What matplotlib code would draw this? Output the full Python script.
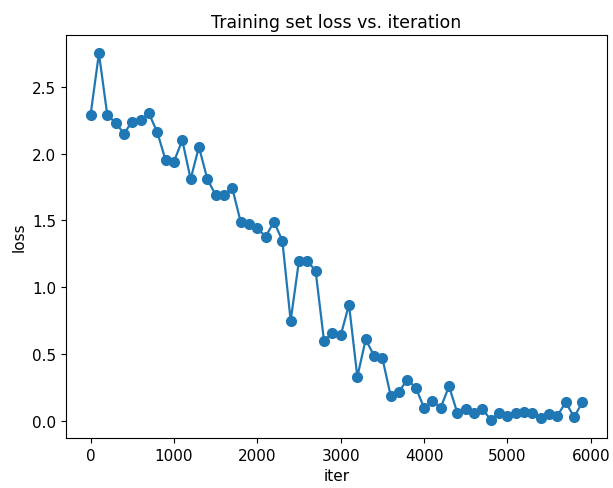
import numpy as np
import matplotlib
matplotlib.use('Agg')
import matplotlib.pyplot as plt

iters = np.arange(0, 6000, 100)
loss = [2.29, 2.75, 2.29, 2.23, 2.15, 2.24, 2.25, 2.30, 2.16, 1.95,
        1.94, 2.10, 1.81, 2.05, 1.81, 1.69, 1.69, 1.74, 1.49, 1.47,
        1.44, 1.38, 1.49, 1.35, 0.75, 1.20, 1.20, 1.12, 0.60, 0.66,
        0.64, 0.87, 0.33, 0.61, 0.49, 0.47, 0.19, 0.22, 0.31, 0.25,
        0.10, 0.15, 0.10, 0.26, 0.06, 0.09, 0.06, 0.09, 0.01, 0.06,
        0.04, 0.06, 0.07, 0.06, 0.02, 0.05, 0.04, 0.14, 0.03, 0.14]

plt.rcParams['font.size'] = 11

fig = plt.figure(figsize=(6.13, 4.89), dpi=100)
ax = fig.add_axes([66/613, 1-439/489, 541/613, 403/489])
ax.plot(iters, loss, '-o', color='#1f77b4', markersize=7, linewidth=1.6)
ax.set_title('Training set loss vs. iteration', fontsize=12.5)
ax.set_xlabel('iter')
ax.set_ylabel('loss')
fig.savefig('out.png', dpi=100)
